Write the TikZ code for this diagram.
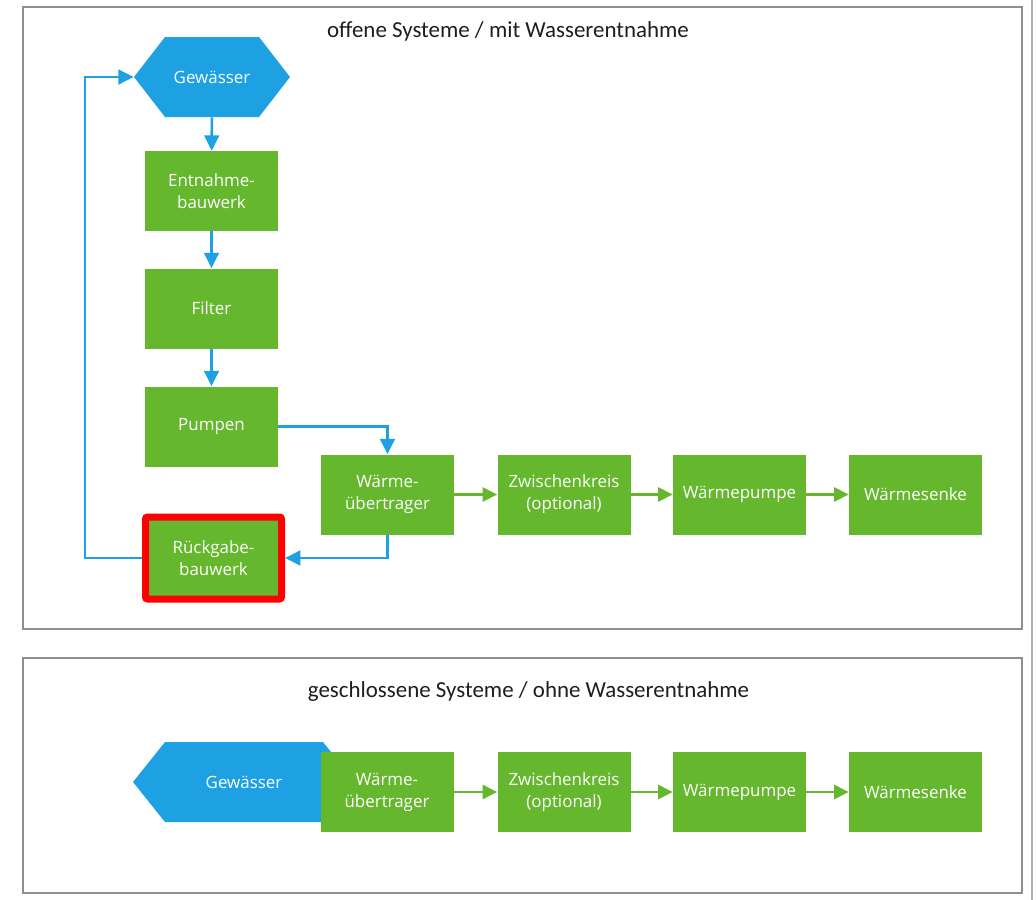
\documentclass[tikz,border=0pt]{standalone}
\usepackage{fontspec}
\setmainfont{Open Sans}
\newfontfamily\titlefont{Carlito}
\usetikzlibrary{arrows.meta}
\definecolor{hexblue}{RGB}{29,161,226}
\definecolor{boxgreen}{RGB}{101,183,46}
\definecolor{framegray}{RGB}{142,142,142}
\definecolor{titlecol}{RGB}{30,30,30}
\tikzset{
  boxfont/.style={font=\fontsize{12.7pt}{16.5pt}\selectfont},
  greenbox/.style={rectangle, fill=boxgreen, draw=none, text=white, minimum width=99.75pt, minimum height=60pt, inner sep=0pt, align=center, boxfont},
  redbox/.style={greenbox, draw=red, line width=5.25pt, minimum width=102pt, minimum height=61.5pt, rounded corners=1.5pt},
  hexbox/.style={rectangle, draw=none, text=white, minimum height=60pt, inner sep=0pt, align=center, boxfont,
    path picture={\fill[hexblue] (path picture bounding box.west) -- ([xshift=#1]path picture bounding box.north west) -- ([xshift=-#1]path picture bounding box.north east) -- (path picture bounding box.east) -- ([xshift=-#1]path picture bounding box.south east) -- ([xshift=#1]path picture bounding box.south west) -- cycle;}},
  blueflow/.style={draw=hexblue, line width=1.9pt, -{Triangle[length=11.5pt,width=11pt]}},
  greenflow/.style={draw=boxgreen, line width=2.1pt, -{Triangle[length=11pt,width=10.5pt]}},
  frame/.style={draw=framegray, line width=1.6pt},
  titletext/.style={font=\titlefont\fontsize{17.2pt}{20pt}\selectfont, text=titlecol, inner sep=0pt}
}
\begin{document}
\begin{tikzpicture}[x=0.75pt,y=-0.75pt]
\useasboundingbox (0,0) rectangle (1036,900);
% frames
\draw[frame] (23,7) rectangle (1022,629);
\draw[frame] (23,658) rectangle (1022,893);
\draw[draw=framegray!70, line width=1.6pt] (1032,0) -- (1032,900);
% titles
\node[titletext] (t1) at (508,31) {offene Systeme / mit Wasserentnahme};
\node[titletext] (t2) at (528.5,691) {geschlossene Systeme / ohne Wasserentnahme};
% top section
\node[hexbox=23.25pt, minimum width=117pt] (gw) at (212,77) {Gewässer};
\node[greenbox] (ent) at (211.5,191) {Entnahme-\\bauwerk};
\node[greenbox] (fil) at (211.5,308.5) {Filter};
\node[greenbox] (pum) at (211.5,426.5) {Pumpen};
\node[greenbox] (wue) at (387.5,494.5) {Wärme-\\übertrager};
\node[greenbox] (zwk) at (564,494.5) {Zwischenkreis\\(optional)};
\node[greenbox] (wpu) at (739.5,494.5) {Wärmepumpe};
\node[greenbox] (wse) at (915.5,494.5) {Wärmesenke};
\node[redbox] (rue) at (213.5,558) {Rückgabe-\\bauwerk};
\draw[blueflow] (gw) -- (ent);
\draw[blueflow] (ent) -- (fil);
\draw[blueflow] (fil) -- (pum);
\draw[blueflow] (pum.east) -| (wue.north);
\draw[blueflow] (wue.south) |- (rue.east);
\draw[blueflow] (rue.west) -- (85,558) |- (gw.west);
\draw[greenflow] (wue) -- (zwk);
\draw[greenflow] (zwk) -- (wpu);
\draw[greenflow] (wpu) -- (wse);
% bottom section
\node[hexbox=24pt, minimum width=166.5pt] (gw2) at (244,782) {Gewässer};
\node[greenbox] (wue2) at (387,792) {Wärme-\\übertrager};
\node[greenbox] (zwk2) at (564,792) {Zwischenkreis\\(optional)};
\node[greenbox] (wpu2) at (739.5,792) {Wärmepumpe};
\node[greenbox] (wse2) at (915.5,792) {Wärmesenke};
\draw[greenflow] (wue2) -- (zwk2);
\draw[greenflow] (zwk2) -- (wpu2);
\draw[greenflow] (wpu2) -- (wse2);
\end{tikzpicture}
\end{document}
